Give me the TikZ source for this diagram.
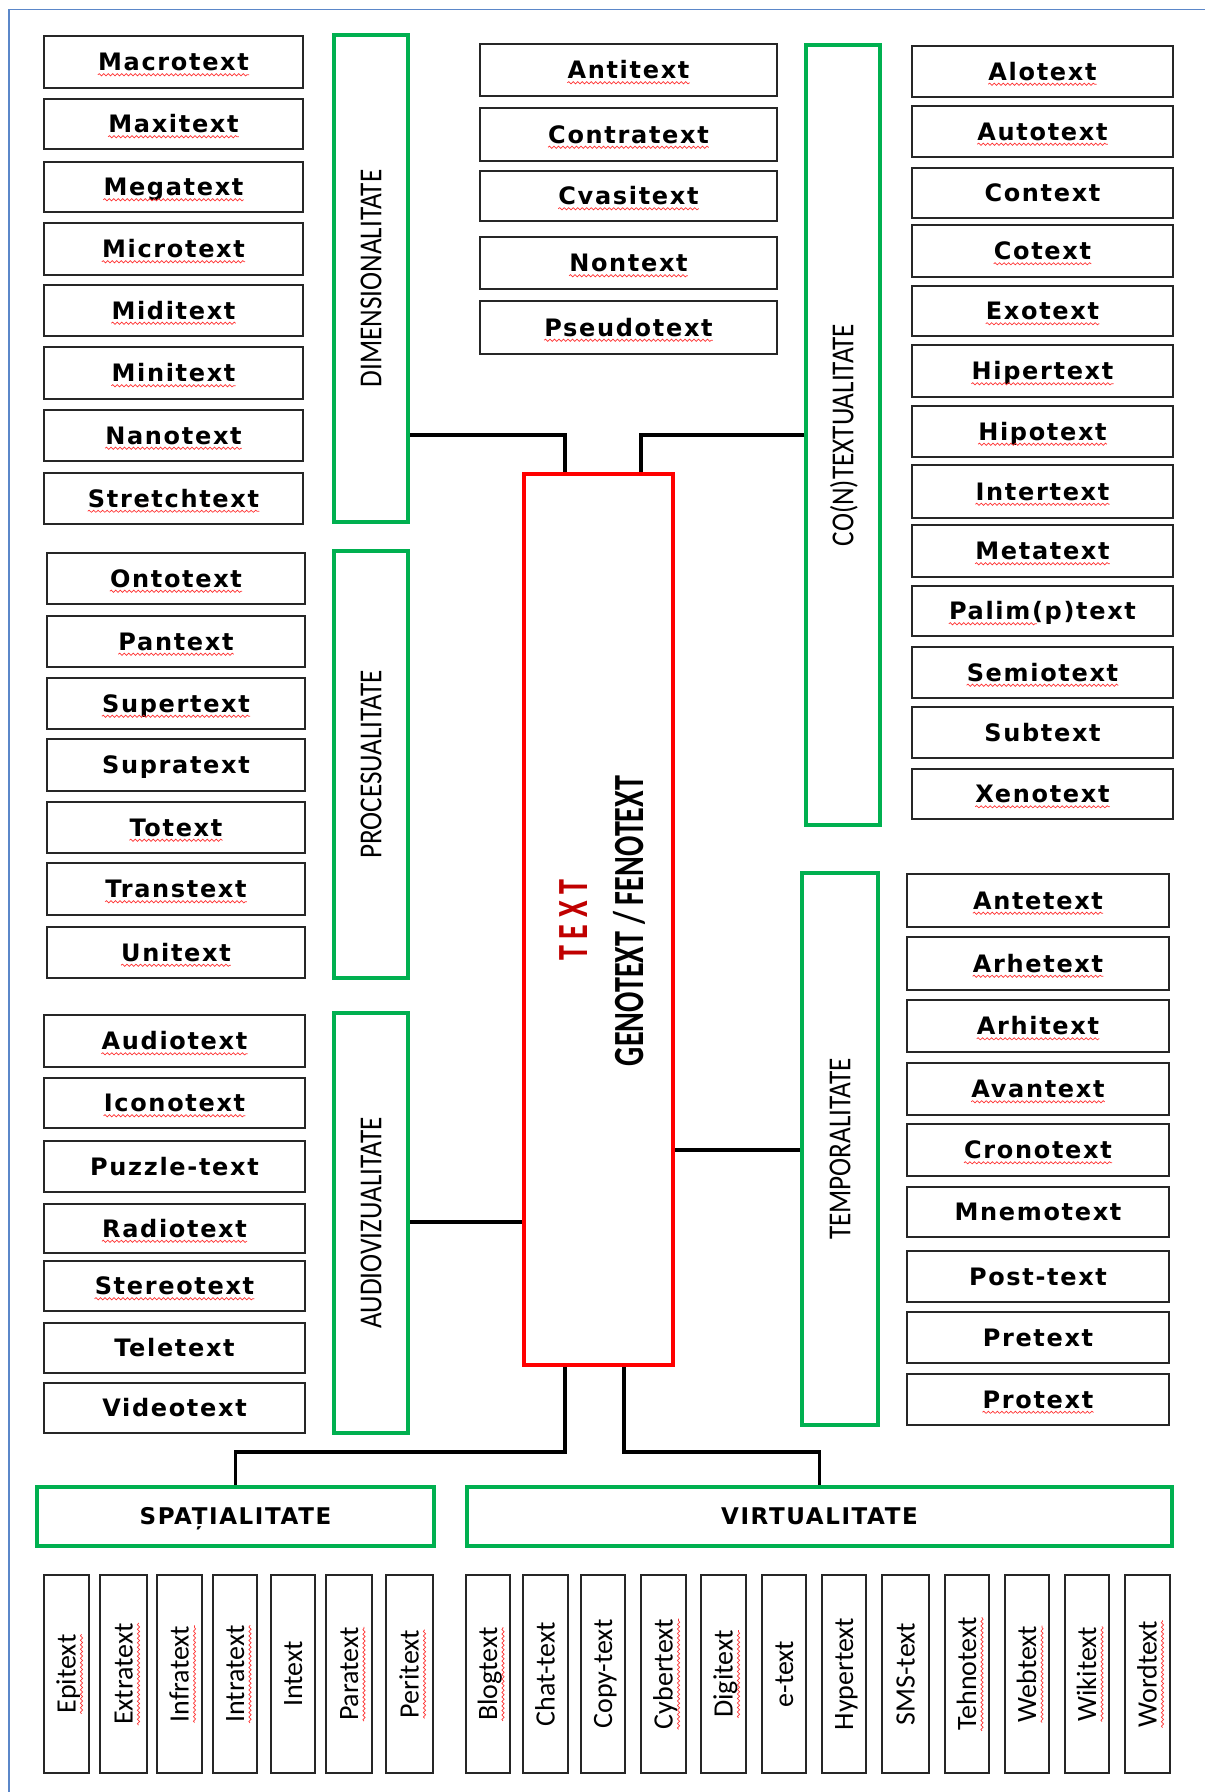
\documentclass[tikz,border=0pt]{standalone}
\usepackage{fontspec}
\usetikzlibrary{decorations.pathmorphing,calc}
\newfontfamily\bxfont{DejaVu Sans}[LetterSpace=7]
\newfontfamily\carlfont{Carlito}
\definecolor{gr}{RGB}{0,176,80}
\definecolor{rd}{RGB}{255,0,0}
\definecolor{dkred}{RGB}{192,0,0}
\definecolor{bl}{RGB}{91,135,201}
\tikzset{
 tbox/.style={draw=black!85, line width=2.2pt, inner sep=0pt},
 tlbl/.style={font=\bxfont\bfseries\fontsize{24}{28}\selectfont, inner sep=0pt, text height=17.5pt, text depth=0pt},
 vlbl/.style={font=\carlfont\fontsize{28}{32}\selectfont, inner sep=0pt, rotate=90, text height=18pt, text depth=0pt},
 gbox/.style={draw=gr, line width=4pt, inner sep=0pt},
 glbl/.style={font=\carlfont\fontsize{32}{36}\selectfont, inner sep=0pt, rotate=90, text height=20.6pt, text depth=0pt},
 hlbl/.style={font=\bxfont\bfseries\fontsize{23}{27}\selectfont, inner sep=0pt, text height=16.7pt, text depth=0pt},
 rbox/.style={draw=rd, line width=4.5pt, inner sep=0pt},
 clbl/.style={font=\carlfont\bfseries\fontsize{43}{50}\selectfont, inner sep=0pt, rotate=90, text height=27.7pt, text depth=0pt},
 conn/.style={draw=black, line width=3.3pt},
 squig/.style={draw=red!80, line width=0.7pt, decorate, decoration={snake, amplitude=1.1pt, segment length=4.5pt}},
}
\newcommand\mkbox[7]{%
 \node[tbox, minimum width={#4-#2}, minimum height={#5-#3}] (#1) at ({(#2+#4)/2},{(#3+#5)/2}) {};
 \node[tlbl] (#1t) at (#1.center) {#6};
 \ifnum#7=1 \draw[squig] ([yshift=-4pt]#1t.base west) -- ([yshift=-4pt]#1t.base east);\fi
 \ifnum#7=2 \draw[squig] ([yshift=-4pt]#1t.base west) -- ($([yshift=-4pt]#1t.base west)!0.47!([yshift=-4pt]#1t.base east)$);\fi}
\newcommand\mkvbox[7]{%
 \node[tbox, minimum width={#4-#2}, minimum height={#5-#3}] (#1) at ({(#2+#4)/2},{(#3+#5)/2}) {};
 \node[vlbl] (#1t) at (#1.center) {#6};
 \ifnum#7=1 \draw[squig] ([xshift=6pt]#1t.base west) -- ([xshift=6pt]#1t.base east);\fi}
\begin{document}
\begin{tikzpicture}[x=1pt,y=-1pt]
\fill[white] (0,0) rectangle (1205,1792);
\useasboundingbox (0,0) rectangle (1205,1792);
\draw[bl, line width=1.6pt] (9,1792) -- (9,9.5) -- (1205,9.5);

% left column A
\foreach \ya/\yb/\t/\f [count=\i] in {36/88/Macrotext/1, 99/149/Maxitext/1, 162/212/Megatext/1, 223/275/Microtext/1, 285/336/Miditext/1, 347/399/Minitext/1, 410/461/Nanotext/1, 473/524/Stretchtext/1}
 {\mkbox{A\i}{44}{\ya}{303}{\yb}{\t}{\f}}
% left column B
\foreach \ya/\yb/\t/\f [count=\i] in {553/604/Ontotext/1, 616/667/Pantext/1, 678/729/Supertext/1, 739/791/Supratext/0, 802/853/Totext/1, 863/915/Transtext/1, 927/978/Unitext/1}
 {\mkbox{B\i}{47}{\ya}{305}{\yb}{\t}{\f}}
% left column C
\foreach \ya/\yb/\t/\f [count=\i] in {1015/1067/Audiotext/1, 1078/1128/Iconotext/1, 1141/1192/Puzzle-text/0, 1204/1253/Radiotext/1, 1261/1311/Stereotext/1, 1323/1373/Teletext/0, 1383/1433/Videotext/0}
 {\mkbox{C\i}{44}{\ya}{305}{\yb}{\t}{\f}}
% middle column
\foreach \ya/\yb/\t/\f [count=\i] in {44/96/Antitext/1, 108/161/Contratext/1, 171/221/Cvasitext/1, 237/289/Nontext/1, 301/354/Pseudotext/1}
 {\mkbox{M\i}{480}{\ya}{777}{\yb}{\t}{\f}}
% right column D
\foreach \ya/\yb/\t/\f [count=\i] in {46/97/Alotext/1, 106/157/Autotext/1, 168/218/Context/0, 225/277/Cotext/1, 286/336/Exotext/1, 345/397/Hipertext/1, 406/457/Hipotext/1, 465/518/Intertext/1, 525/577/Metatext/1, 586/636/{Palim(p)text}/2, 647/698/Semiotext/1, 707/758/Subtext/0, 769/819/Xenotext/1}
 {\mkbox{D\i}{912}{\ya}{1173}{\yb}{\t}{\f}}
% right column E
\foreach \ya/\yb/\t/\f [count=\i] in {874/927/Antetext/1, 937/990/Arhetext/1, 1000/1052/Arhitext/1, 1063/1115/Avantext/1, 1124/1176/Cronotext/1, 1187/1237/Mnemotext/0, 1251/1302/Post-text/0, 1312/1363/Pretext/0, 1374/1425/Protext/1}
 {\mkbox{E\i}{907}{\ya}{1169}{\yb}{\t}{\f}}
% bottom vertical boxes
\foreach \xa/\xb/\t/\f [count=\i] in {44/89/Epitext/1, 100/147/Extratext/1, 157/202/Infratext/1, 213/257/Intratext/1, 271/315/Intext/0, 326/372/Paratext/1, 386/433/Peritext/1, 466/510/Blogtext/1, 523/568/Chat-text/0, 581/625/Copy-text/0, 641/686/Cybertext/1, 701/746/Digitext/1, 762/806/e-text/0, 822/866/Hypertext/0, 882/929/SMS-text/0, 945/989/Tehnotext/1, 1005/1049/Webtext/1, 1065/1109/Wikitext/1, 1125/1170/Wordtext/1}
 {\mkvbox{V\i}{\xa}{1575}{\xb}{1773}{\t}{\f}}

% group boxes
\node[gbox, minimum width=74, minimum height=487] (dim) at (371,278.5) {};
\node[glbl] (dimt) at (dim.center) {\scalebox{0.85}[1]{DIMENSIONALITATE}};
\node[gbox, minimum width=74, minimum height=427] (proc) at (371,764.5) {};
\node[glbl] (proct) at (proc.center) {\scalebox{0.85}[1]{PROCESUALITATE}};
\node[gbox, minimum width=74, minimum height=420] (aud) at (371,1223) {};
\node[glbl] (audt) at (aud.center) {\scalebox{0.85}[1]{AUDIOVIZUALITATE}};
\node[gbox, minimum width=74, minimum height=780] (ctx) at (843,435) {};
\node[glbl] (ctxt) at (ctx.center) {\scalebox{0.85}[1]{CO(N)TEXTUALITATE}};
\node[gbox, minimum width=76, minimum height=552] (tmp) at (840,1149) {};
\node[glbl] (tmpt) at (tmp.center) {\scalebox{0.85}[1]{TEMPORALITATE}};
\node[gbox, minimum width=397, minimum height=59] (spa) at (235.5,1516.5) {};
\node[hlbl] (spat) at (spa.center) {SPAȚIALITATE};
\node[gbox, minimum width=705, minimum height=59] (vir) at (819.5,1516.5) {};
\node[hlbl] (virt) at (vir.center) {VIRTUALITATE};

% central box
\node[rbox, minimum width=149, minimum height=891] (red) at (598.5,919.5) {};
\node[clbl, text=dkred] (redt1) at (574,920) {\scalebox{0.7}[1]{T E X T}};
\node[clbl] (redt2) at (630,921) {\scalebox{0.7}[1]{GENOTEXT / FENOTEXT}};

% connectors
\coordinate (j1) at (565,435);
\coordinate (j2) at (641,435);
\coordinate (j3) at (465,1222);
\coordinate (j4) at (740,1150);
\coordinate (j5) at (565,1452);
\coordinate (j6) at (624,1452);
\draw[conn] (dim.east |- j1) -- (j1) -- (j1 |- red.north);
\draw[conn] (ctx.west |- j2) -- (j2) -- (j2 |- red.north);
\draw[conn] (aud.east |- j3) -- (red.west |- j3);
\draw[conn] (red.east |- j4) -- (tmp.west |- j4);
\draw[conn] (red.south -| j5) -- (j5) -| (spa.north);
\draw[conn] (red.south -| j6) -- (j6) -| (vir.north);
\end{tikzpicture}
\end{document}
